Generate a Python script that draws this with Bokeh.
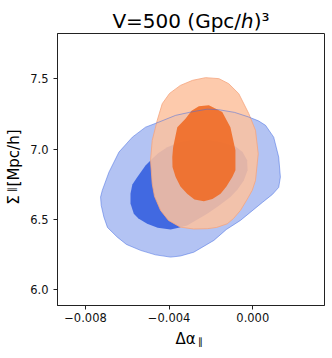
from bokeh.plotting import figure
from bokeh.models import Range1d, FixedTicker, LinearAxis
from bokeh.embed import file_html
from bokeh.resources import INLINE

# ---- data (contour outlines) ----
blue_outer_x = [-0.00728, -0.00720, -0.00688, -0.00640, -0.00576, -0.00513, -0.00449, -0.00369,
                -0.00298, -0.00218, -0.00162, -0.00087, -0.00019, 0.00027, 0.00061, 0.00100,
                0.00124, 0.00132, 0.00124, 0.00094, 0.00046, -0.00059, -0.00126, -0.00186,
                -0.00282, -0.00346, -0.00393, -0.00465, -0.00537, -0.00604, -0.00648, -0.00695,
                -0.00712, -0.00725]
blue_outer_y = [6.659, 6.706, 6.836, 6.979, 7.085, 7.156, 7.192, 7.240,
                7.263, 7.284, 7.280, 7.261, 7.228, 7.201, 7.169, 7.085,
                6.943, 6.801, 6.728, 6.678, 6.621, 6.493, 6.429, 6.351,
                6.267, 6.240, 6.232, 6.248, 6.280, 6.322, 6.374, 6.443,
                6.516, 6.600]

blue_inner_x = [-0.00585, -0.00576, -0.00552, -0.00513, -0.00481, -0.00451, -0.00409, -0.00346,
                -0.00282, -0.00216, -0.00154, -0.00083, -0.00049, -0.00027, -0.00025, -0.00043,
                -0.00073, -0.00107, -0.00164, -0.00218, -0.00314, -0.00355, -0.00393, -0.00455,
                -0.00505, -0.00547, -0.00569, -0.00585]
blue_inner_y = [6.683, 6.749, 6.801, 6.884, 6.932, 6.973, 7.014, 7.051,
                7.067, 7.065, 7.050, 7.019, 6.980, 6.920, 6.849, 6.777,
                6.713, 6.659, 6.596, 6.541, 6.457, 6.440, 6.429, 6.440,
                6.469, 6.507, 6.541, 6.614]

orange_outer_x = [-0.00226, -0.00162, -0.00115, -0.00067, -0.00019, 0.00013, 0.00026, 0.00013,
                  -0.00003, -0.00030, -0.00059, -0.00092, -0.00122, -0.00173, -0.00218, -0.00283,
                  -0.00346, -0.00403, -0.00441, -0.00470, -0.00481, -0.00489, -0.00481, -0.00457,
                  -0.00433, -0.00398, -0.00346, -0.00288]
orange_outer_y = [7.508, 7.501, 7.465, 7.394, 7.252, 7.133, 6.967, 6.777,
                  6.706, 6.635, 6.564, 6.507, 6.469, 6.443, 6.434, 6.432,
                  6.445, 6.493, 6.564, 6.664, 6.754, 6.920, 7.062, 7.204,
                  7.323, 7.396, 7.453, 7.489]

orange_inner_x = [-0.00210, -0.00146, -0.00107, -0.00083, -0.00083, -0.00098, -0.00126, -0.00154,
                  -0.00193, -0.00234, -0.00279, -0.00314, -0.00346, -0.00369, -0.00384, -0.00385,
                  -0.00381, -0.00361, -0.00322, -0.00293, -0.00258]
orange_inner_y = [7.311, 7.263, 7.156, 6.991, 6.849, 6.801, 6.735, 6.683,
                  6.646, 6.630, 6.642, 6.683, 6.735, 6.801, 6.872, 6.943,
                  7.014, 7.156, 7.216, 7.272, 7.304]

x_ticks = [-0.008, -0.004, 0.0]
x_tick_labels = ["\u22120.008", "\u22120.004", "0.000"]
y_ticks = [6.0, 6.5, 7.0, 7.5]
y_tick_labels = ["6.0", "6.5", "7.0", "7.5"]

title_text = "V=500 (Gpc/\u210e)\u00b3"
xlabel_main, xlabel_sub = "\u0394\u03b1", "\u2225"
ylabel_main, ylabel_sub, ylabel_unit = "\u03a3", "\u2225", "[Mpc/h]"

FONT = "DejaVu Sans"

p = figure(width=326, height=350, output_backend="svg", toolbar_location=None,
           x_range=Range1d(-0.00934, 0.00343), y_range=Range1d(5.888, 7.822),
           min_border_left=57, min_border_right=2, min_border_top=33, min_border_bottom=45)
p.grid.visible = False
p.outline_line_color = "#222222"
p.outline_line_width = 1
p.background_fill_color = "white"
p.border_fill_color = "white"

p.title.text = title_text
p.title.align = "center"
p.title.text_font = FONT
p.title.text_font_size = "20px"
p.title.text_font_style = "normal"
p.title.text_color = "black"
p.title.standoff = 1

# contours
p.patch(blue_outer_x, blue_outer_y, fill_color="royalblue", fill_alpha=0.4, line_color=None)
p.patch(blue_inner_x, blue_inner_y, fill_color="royalblue", fill_alpha=1.0, line_color=None)
p.patch(orange_outer_x, orange_outer_y, fill_color="#FDC19E", fill_alpha=0.86,
        line_color="#F5A57E", line_width=1, line_alpha=0.8)
p.patch(orange_inner_x, orange_inner_y, fill_color="#F06C26", fill_alpha=0.9, line_color=None)
p.patch(blue_outer_x, blue_outer_y, fill_color=None, line_color="royalblue", line_alpha=0.5, line_width=1)

# main axes
for ax, ticks, labels in ((p.xaxis[0], x_ticks, x_tick_labels), (p.yaxis[0], y_ticks, y_tick_labels)):
    ax.ticker = FixedTicker(ticks=ticks)
    ax.major_label_overrides = {t: l for t, l in zip(ticks, labels)}
    ax.minor_tick_line_color = None
    ax.major_tick_in = 0
    ax.major_tick_out = 4
    ax.major_tick_line_color = "#222222"
    ax.axis_line_color = "#222222"
    ax.major_label_text_font = FONT
    ax.major_label_text_font_size = "11.5px"
    ax.major_label_text_color = "#111111"
p.yaxis[0].major_label_standoff = 5
p.xaxis[0].major_label_standoff = 3


def label_axis(where, positions, texts, size, standoff, orientation="horizontal"):
    """An axis with no line or ticks, used only to place axis-title text."""
    ax = LinearAxis(ticker=FixedTicker(ticks=positions),
                    major_label_overrides={t: s for t, s in zip(positions, texts)},
                    axis_line_color=None, major_tick_line_color=None, minor_tick_line_color=None,
                    major_tick_in=0, major_tick_out=0, minor_tick_in=0, minor_tick_out=0,
                    major_label_text_font=FONT, major_label_text_font_size=size,
                    major_label_text_color="black", major_label_standoff=standoff,
                    major_label_orientation=orientation)
    p.add_layout(ax, where)
    return ax


# x-axis title: "Δα" with a lowered, smaller "∥"
label_axis("below", [-0.00322], [xlabel_main], "15px", 5)
label_axis("below", [-0.00250], [xlabel_sub], "10px", -15)
# y-axis title: "Σ∥ [Mpc/h]" read bottom to top
label_axis("left", [6.639, 6.937], [ylabel_main, ylabel_unit], "15px", 4, "vertical")
label_axis("left", [6.713], [ylabel_sub], "10px", -15, "vertical")

open("out.html", "w").write(file_html(p, INLINE))
